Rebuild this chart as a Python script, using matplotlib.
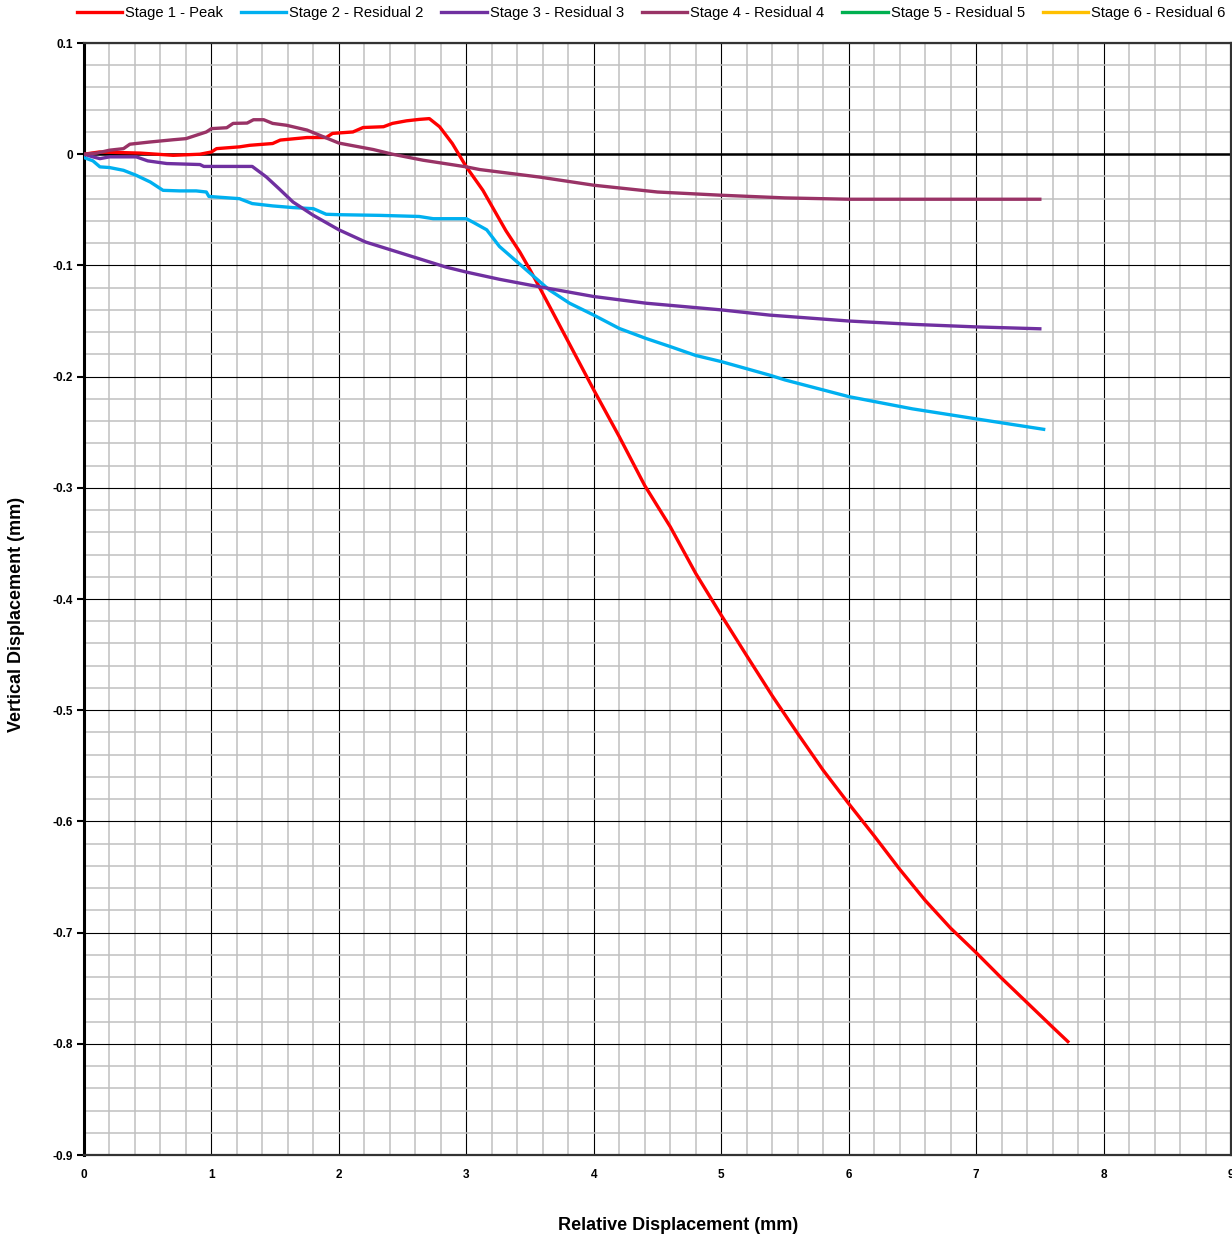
import matplotlib
matplotlib.use('Agg')
from matplotlib import pyplot as plt
from matplotlib.ticker import MultipleLocator, FuncFormatter

# data (mm)
s1_x = [0, 0.12, 0.44, 0.70, 0.91, 1.0, 1.04, 1.22, 1.30, 1.48, 1.54, 1.75, 1.90, 1.95, 2.11, 2.19,
        2.35, 2.42, 2.53, 2.63, 2.71, 2.79, 2.89, 3.0, 3.13, 3.31, 3.42, 3.5, 3.58, 3.82, 4.0, 4.2,
        4.4, 4.6, 4.8, 5.0, 5.2, 5.4, 5.6, 5.8, 6.0, 6.2, 6.4, 6.6, 6.8, 7.0, 7.2, 7.4, 7.6, 7.72]
s1_y = [0, 0.002, 0.001, -0.001, 0.0, 0.002, 0.005, 0.0066, 0.008, 0.0096, 0.0127, 0.015, 0.015,
        0.0187, 0.020, 0.024, 0.0247, 0.0277, 0.030, 0.0313, 0.032, 0.0247, 0.0096, -0.0114, -0.0325,
        -0.0687, -0.088, -0.104, -0.121, -0.173, -0.212, -0.254, -0.298, -0.335, -0.377, -0.4145,
        -0.451, -0.487, -0.521, -0.554, -0.584, -0.613, -0.643, -0.671, -0.696, -0.718, -0.741,
        -0.763, -0.785, -0.798]

s2_x = [0, 0.07, 0.125, 0.2, 0.31, 0.41, 0.52, 0.62, 0.75, 0.88, 0.96, 0.98, 1.22, 1.32, 1.48, 1.64,
        1.80, 1.90, 2.0, 2.32, 2.63, 2.74, 3.0, 3.05, 3.16, 3.26, 3.5, 3.65, 3.81, 4.0, 4.2, 4.41,
        4.6, 4.8, 5.0, 5.38, 5.5, 6.0, 6.5, 7.0, 7.53]
s2_y = [-0.003, -0.006, -0.0114, -0.012, -0.0145, -0.019, -0.025, -0.0325, -0.033, -0.033, -0.034,
        -0.038, -0.040, -0.0444, -0.0465, -0.048, -0.049, -0.054, -0.0544, -0.055, -0.056, -0.058,
        -0.058, -0.061, -0.068, -0.083, -0.107, -0.122, -0.134, -0.1447, -0.1567, -0.1657, -0.173,
        -0.181, -0.1865, -0.1987, -0.203, -0.218, -0.229, -0.238, -0.2474]

s3_x = [0, 0.07, 0.125, 0.2, 0.41, 0.5, 0.65, 0.91, 0.94, 1.32, 1.43, 1.53, 1.64, 1.80, 2.0, 2.21,
        2.42, 2.63, 2.84, 3.0, 3.26, 3.5, 4.0, 4.41, 5.0, 5.38, 6.0, 6.5, 7.0, 7.5]
s3_y = [0, -0.0024, -0.004, -0.0024, -0.0024, -0.006, -0.0084, -0.0093, -0.011, -0.011, -0.0204,
        -0.031, -0.043, -0.055, -0.068, -0.079, -0.0865, -0.094, -0.1015, -0.106, -0.1125, -0.1177,
        -0.128, -0.134, -0.140, -0.1447, -0.150, -0.153, -0.1553, -0.157]

s4_x = [0, 0.1, 0.2, 0.31, 0.36, 0.52, 0.70, 0.80, 0.88, 0.96, 1.0, 1.12, 1.17, 1.28, 1.33, 1.41,
        1.48, 1.59, 1.75, 1.85, 2.0, 2.27, 2.42, 2.66, 3.0, 3.105, 3.57, 4.0, 4.5, 5.0, 5.5, 6.0,
        6.5, 7.0, 7.5]
s4_y = [0, 0.001, 0.0036, 0.005, 0.009, 0.011, 0.013, 0.014, 0.017, 0.020, 0.023, 0.0238, 0.0277,
        0.028, 0.031, 0.031, 0.0277, 0.026, 0.0217, 0.017, 0.010, 0.0042, 0.0, -0.0054, -0.0114,
        -0.0138, -0.0205, -0.0279, -0.034, -0.0369, -0.0393, -0.0405, -0.0405, -0.0405, -0.0405]

# stages 5 and 6 have no readings, they only show up in the legend
s5_x, s5_y = [], []
s6_x, s6_y = [], []

labels = ['Stage 1 - Peak', 'Stage 2 - Residual 2', 'Stage 3 - Residual 3',
          'Stage 4 - Residual 4', 'Stage 5 - Residual 5', 'Stage 6 - Residual 6']
colors = ['#FF0000', '#00B0F0', '#7030A0', '#993366', '#00B050', '#FFC000']

plt.rcParams['axes.unicode_minus'] = False
font = ['Liberation Sans', 'DejaVu Sans']

fig = plt.figure(figsize=(12.32, 12.38), dpi=100)
ax = fig.add_axes([84 / 1232, 1 - 1155 / 1238, 1147 / 1232, 1112 / 1238])

series = [(s1_x, s1_y), (s2_x, s2_y), (s3_x, s3_y), (s4_x, s4_y), (s5_x, s5_y), (s6_x, s6_y)]
for (xs, ys), lab, col in zip(series, labels, colors):
    ax.plot(xs, ys, color=col, lw=2.4, label=lab, zorder=3, solid_joinstyle='round')

ax.set_xlim(0, 9)
ax.set_ylim(-0.9, 0.1)
ax.xaxis.set_major_locator(MultipleLocator(1))
ax.xaxis.set_minor_locator(MultipleLocator(0.2))
ax.yaxis.set_major_locator(MultipleLocator(0.1))
ax.yaxis.set_minor_locator(MultipleLocator(0.02))
ax.yaxis.set_major_formatter(FuncFormatter(lambda v, p: '{:g}'.format(round(v, 2) + 0.0)))
ax.xaxis.set_major_formatter(FuncFormatter(lambda v, p: '{:g}'.format(v)))

ax.grid(which='minor', color='#c0c0c0', lw=1.1, zorder=0)
ax.grid(which='major', color='black', lw=0.8, zorder=1)
ax.set_axisbelow(True)
ax.axhline(0, color='black', lw=1.8, zorder=2)

ax.spines['left'].set_linewidth(2.2)
ax.spines['left'].set_color('black')
for side in ['bottom', 'top', 'right']:
    ax.spines[side].set_linewidth(1.6)
    ax.spines[side].set_color('#333333')

ax.tick_params(which='minor', length=0)
ax.tick_params(axis='y', which='major', length=5, width=1.5, direction='out', pad=3)
ax.tick_params(axis='x', which='major', length=0, pad=10)
for t in ax.get_xticklabels() + ax.get_yticklabels():
    t.set_family(font)
    t.set_fontweight('bold')
    t.set_fontsize(8.5)

fig.text(678 / 1232, 1 - 1226 / 1238, 'Relative Displacement (mm)', ha='center', va='center',
         fontsize=13, fontweight='bold', family=font)
fig.text(17 / 1232, 1 - 614 / 1238, 'Vertical Displacement (mm)', ha='center', va='center',
         rotation=90, fontsize=13, fontweight='bold', family=font)

leg = fig.legend(loc='center', bbox_to_anchor=(651 / 1232, 1 - 13 / 1238), ncol=6, frameon=False,
                 handlelength=3.1, handletextpad=0.2, columnspacing=1.2, borderaxespad=0,
                 prop={'family': font, 'size': 10.6})

fig.savefig('out.png', dpi=100)
